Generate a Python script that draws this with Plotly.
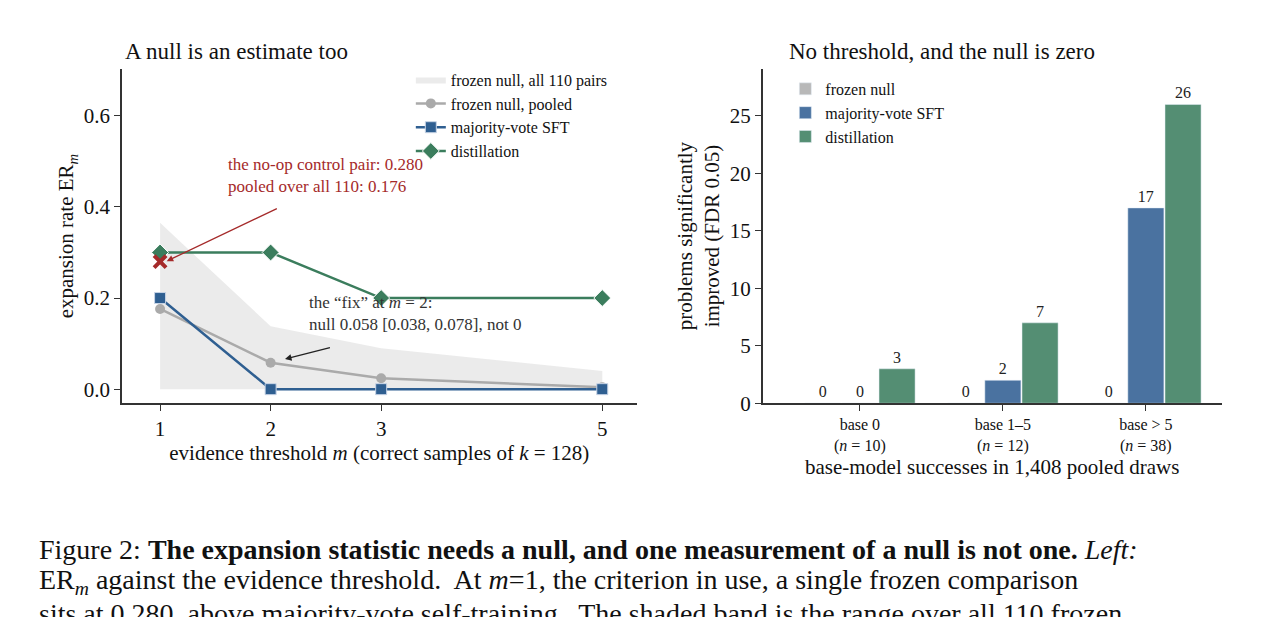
import plotly.graph_objects as go

# left panel data
thresholds = [1, 2, 3, 5]
band_hi = [0.365, 0.138, 0.09, 0.04]
band_lo = [0.0, 0.0, 0.0, 0.0]
null_pooled = [0.176, 0.058, 0.024, 0.004]
majority_sft = [0.2, 0.0, 0.0, 0.0]
distillation = [0.3, 0.3, 0.2, 0.2]
noop_pair = 0.280

# right panel data
bins = ['base 0<br>(<i>n</i> = 10)', 'base 1–5<br>(<i>n</i> = 12)', 'base > 5<br>(<i>n</i> = 38)']
bar_null = [0, 0, 0]
bar_sft = [0, 2, 17]
bar_dist = [3, 7, 26]

SERIF = 'Liberation Serif, Times New Roman, serif'
GREEN = '#3b7d5d'
BLUE = '#2f5f91'
GRAY = '#aaaaaa'
RED = '#a52a2a'

# page offset compensation (px)
DX = 7 / 1261
DY = 7 / 617

fig = go.Figure()

fig.add_trace(go.Scatter(x=thresholds, y=band_lo, mode='lines', line=dict(width=0),
                         showlegend=False, hoverinfo='skip'))
fig.add_trace(go.Scatter(x=thresholds, y=band_hi, mode='lines', line=dict(width=0),
                         fill='tonexty', fillcolor='rgba(225,225,225,0.65)',
                         name='frozen null, all 110 pairs', legend='legend'))
fig.add_trace(go.Scatter(x=thresholds, y=null_pooled, mode='lines+markers', name='frozen null, pooled',
                         line=dict(color=GRAY, width=2.5), marker=dict(symbol='circle', size=10, color=GRAY),
                         legend='legend'))
fig.add_trace(go.Scatter(x=thresholds, y=majority_sft, mode='lines+markers', name='majority-vote SFT',
                         line=dict(color=BLUE, width=2.5),
                         marker=dict(symbol='square', size=11, color=BLUE, line=dict(color='#c8d4e6', width=1)),
                         legend='legend'))
fig.add_trace(go.Scatter(x=thresholds, y=distillation, mode='lines+markers', name='distillation',
                         line=dict(color=GREEN, width=2.5),
                         marker=dict(symbol='diamond', size=13, color=GREEN, line=dict(color='white', width=1)),
                         legend='legend'))
fig.add_trace(go.Scatter(x=[1], y=[noop_pair], mode='markers', showlegend=False,
                         marker=dict(symbol='x-thin', size=12, color=RED, line=dict(color=RED, width=4))))

for vals, name, col in [(bar_null, 'frozen null', '#b8b8b8'),
                        (bar_sft, 'majority-vote SFT', '#4a72a0'),
                        (bar_dist, 'distillation', '#548e73')]:
    fig.add_trace(go.Bar(x=bins, y=vals, name=name, marker_color=col, xaxis='x2', yaxis='y2',
                         text=vals, textposition='outside', cliponaxis=False,
                         textfont=dict(family=SERIF, size=16, color='#222'), legend='legend2'))

ax_common = dict(showline=True, linecolor='#333', linewidth=1.5, ticks='outside', ticklen=6,
                 tickcolor='#333', showgrid=False, zeroline=False, automargin=False,
                 tickfont=dict(family=SERIF, size=21, color='#111'))

fig.update_layout(
    width=1261, height=617, margin=dict(l=0, r=0, t=0, b=0),
    plot_bgcolor='white', paper_bgcolor='white',
    font=dict(family=SERIF, color='#111'),
    barmode='group', bargap=0.22, bargroupgap=0.03,
    xaxis=dict(domain=[0.096 - DX, 0.504 - DX], range=[0.656, 5.31], tickvals=thresholds,
               title=dict(text='evidence threshold <i>m</i> (correct samples of <i>k</i> = 128)',
                          font=dict(family=SERIF, size=21), standoff=2), **ax_common),
    yaxis=dict(domain=[0.348 + DY, 0.89 + DY], range=[-0.031, 0.703], tickvals=[0, 0.2, 0.4, 0.6],
               tickformat='.1f',
               title=dict(text='expansion rate ER<sub><i>m</i></sub>', font=dict(family=SERIF, size=21),
                          standoff=4), **ax_common),
    xaxis2=dict(domain=[0.604 - DX, 0.968 - DX], range=[-0.68, 2.53], anchor='y2',
                title=dict(text='base-model successes in 1,408 pooled draws',
                           font=dict(family=SERIF, size=21), standoff=2),
                **{**ax_common, 'tickfont': dict(family=SERIF, size=16, color='#111')}),
    yaxis2=dict(domain=[0.348 + DY, 0.89 + DY], range=[0, 29.1], anchor='x2', tickvals=[0, 5, 10, 15, 20, 25],
                title=dict(text='problems significantly<br>improved (FDR 0.05)',
                           font=dict(family=SERIF, size=21), standoff=4), **ax_common),
    legend=dict(x=0.325 - DX, y=0.9 + DY, xanchor='left', yanchor='top', bgcolor='rgba(0,0,0,0)',
                font=dict(family=SERIF, size=16), tracegroupgap=0, traceorder='normal'),
    legend2=dict(x=0.622 - DX, y=0.885 + DY, xanchor='left', yanchor='top', bgcolor='rgba(0,0,0,0)',
                 font=dict(family=SERIF, size=16), tracegroupgap=0, traceorder='normal'),
)

ann = []
ann.append(dict(xref='paper', yref='paper', x=0.097 - DX, y=0.895 + DY, xanchor='left', yanchor='bottom',
                text='A null is an estimate too', showarrow=False, font=dict(family=SERIF, size=23)))
ann.append(dict(xref='paper', yref='paper', x=0.623 - DX, y=0.895 + DY, xanchor='left', yanchor='bottom',
                text='No threshold, and the null is zero', showarrow=False, font=dict(family=SERIF, size=23)))
ann.append(dict(x=1.06, y=0.281, ax=2.07, ay=0.398, xref='x', yref='y', axref='x', ayref='y',
                showarrow=True, arrowhead=2, arrowsize=1, arrowwidth=1.3, arrowcolor=RED, text=''))
ann.append(dict(x=1.6, y=0.47, xref='x', yref='y', xanchor='left', yanchor='middle', align='left',
                text='the no-op control pair: 0.280<br>pooled over all 110: 0.176', showarrow=False,
                font=dict(family=SERIF, size=17, color=RED)))
ann.append(dict(x=2.13, y=0.066, ax=2.55, ay=0.092, xref='x', yref='y', axref='x', ayref='y',
                showarrow=True, arrowhead=2, arrowsize=1, arrowwidth=1.3, arrowcolor='#222', text=''))
ann.append(dict(x=2.33, y=0.167, xref='x', yref='y', xanchor='left', yanchor='middle', align='left',
                text='the “fix” at <i>m</i> = 2:<br>null 0.058 [0.038, 0.078], not 0', showarrow=False,
                font=dict(family=SERIF, size=17, color='#333')))
caption = [
    'Figure 2: <b>The expansion statistic needs a null, and one measurement of a null is not one.</b> <i>Left:</i>',
    'ER<sub><i>m</i></sub> against the evidence threshold.  At <i>m</i>=1, the criterion in use, a single frozen comparison',
    'sits at 0.280, above majority-vote self-training.  The shaded band is the range over all 110 frozen',
]
for i, line in enumerate(caption):
    ann.append(dict(xref='paper', yref='paper', x=29 / 1261, y=1 - (541 + 32 * i) / 617,
                    xanchor='left', yanchor='middle', text=line, showarrow=False,
                    font=dict(family=SERIF, size=28, color='#111')))
fig.update_layout(annotations=ann)

fig.write_html('out.html')
